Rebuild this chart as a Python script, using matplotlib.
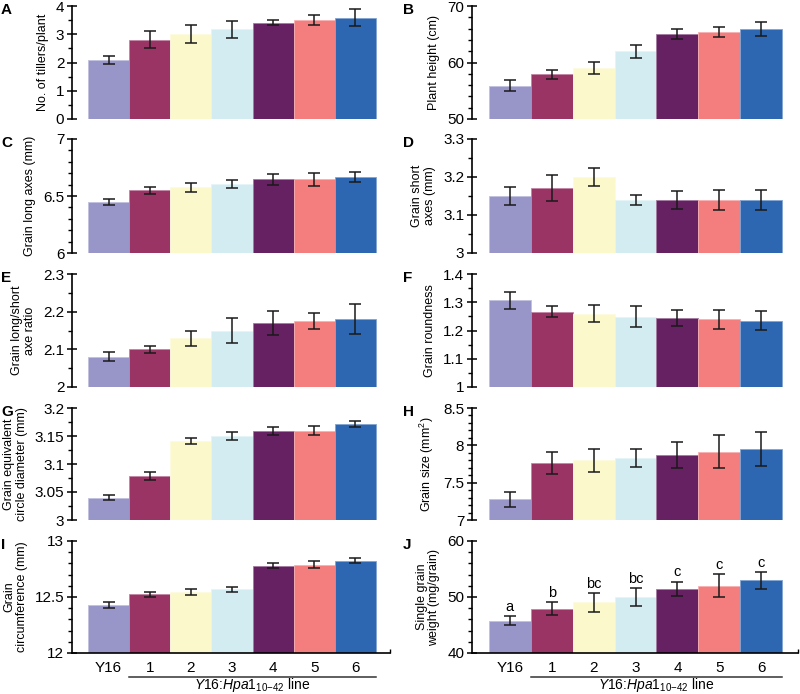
import numpy as np
import matplotlib
matplotlib.use("Agg")
from matplotlib import pyplot as plt
from matplotlib.ticker import MultipleLocator, FuncFormatter

plt.rcParams['font.family'] = ['Liberation Sans', 'DejaVu Sans']
plt.rcParams['mathtext.fontset'] = 'custom'
plt.rcParams['mathtext.rm'] = 'Liberation Sans'
plt.rcParams['mathtext.it'] = 'Liberation Sans:italic'

lines = ['Y16', '1', '2', '3', '4', '5', '6']
colors = ['#9896c8', '#9a3465', '#fbf8cc', '#d3ecf2', '#652162', '#f47d7e', '#2e67b1']

tillers = [2.09, 2.81, 3.00, 3.18, 3.41, 3.49, 3.59]
tillers_err = [0.15, 0.30, 0.32, 0.30, 0.08, 0.18, 0.30]
height = [55.9, 57.9, 59.05, 62.0, 65.0, 65.4, 65.9]
height_err = [1.0, 0.8, 1.0, 1.15, 0.9, 0.95, 1.2]
long_axes = [6.45, 6.55, 6.575, 6.608, 6.645, 6.645, 6.665]
long_err = [0.028, 0.032, 0.039, 0.035, 0.052, 0.057, 0.044]
short_axes = [3.15, 3.17, 3.20, 3.14, 3.14, 3.14, 3.14]
short_err = [0.024, 0.034, 0.024, 0.013, 0.024, 0.027, 0.027]
ratio = [2.08, 2.10, 2.13, 2.15, 2.17, 2.175, 2.18]
ratio_err = [0.012, 0.01, 0.02, 0.033, 0.032, 0.022, 0.04]
roundness = [1.307, 1.267, 1.259, 1.249, 1.244, 1.239, 1.235]
round_err = [0.03, 0.02, 0.03, 0.037, 0.029, 0.034, 0.034]
diameter = [3.040, 3.079, 3.141, 3.150, 3.159, 3.159, 3.171]
diam_err = [0.005, 0.007, 0.006, 0.0065, 0.0065, 0.008, 0.005]
size = [7.275, 7.76, 7.80, 7.83, 7.87, 7.916, 7.947]
size_err = [0.105, 0.145, 0.155, 0.12, 0.17, 0.22, 0.23]
circ = [12.428, 12.524, 12.545, 12.569, 12.78, 12.787, 12.825]
circ_err = [0.027, 0.02, 0.024, 0.024, 0.024, 0.03, 0.025]
weight = [45.8, 47.9, 49.05, 49.95, 51.5, 52.0, 52.95]
weight_err = [0.8, 1.2, 1.65, 1.6, 1.25, 2.05, 1.55]
letters = ['a', 'b', 'bc', 'bc', 'c', 'c', 'c']

# (letter, values, errors, ylabel, ylim, major, minor)
panels = [
    ('A', tillers, tillers_err, 'No. of tillers/plant', (0, 4), 1, 0.5),
    ('B', height, height_err, 'Plant height (cm)', (50, 70), 10, 2),
    ('C', long_axes, long_err, 'Grain long axes (mm)', (6, 7), 0.5, 0.1),
    ('D', short_axes, short_err, 'Grain short\naxes (mm)', (3, 3.3), 0.1, 0.05),
    ('E', ratio, ratio_err, 'Grain long/short\naxe ratio', (2, 2.3), 0.1, 0.05),
    ('F', roundness, round_err, 'Grain roundness', (1, 1.4), 0.1, 0.05),
    ('G', diameter, diam_err, 'Grain equivalent\ncircle diameter (mm)', (3, 3.2), 0.05, 0.025),
    ('H', size, size_err, 'Grain size (mm$^2$)', (7, 8.5), 0.5, 0.1),
    ('I', circ, circ_err, 'Grain\ncircumference (mm)', (12, 13), 0.5, 0.1),
    ('J', weight, weight_err, 'Single grain\nweight (mg/grain)', (40, 60), 10, 2),
]

W, H = 800, 694
fig = plt.figure(figsize=(8, 6.94), dpi=100)
rows = [(6, 119), (139, 253), (274, 387), (408, 520), (541, 653)]
x = np.arange(len(lines))
fmt = FuncFormatter(lambda v, p: '%g' % round(v, 4))

for i, (lab, vals, errs, ylab, ylim, major, minor) in enumerate(panels):
    r, c = divmod(i, 2)
    top, bot = rows[r]
    if c == 0:
        left, width, xlim = 72, 318, (-0.89, 6.84)
    else:
        left, width, xlim = 472, 326, (-0.906, 6.88)
    ax = fig.add_axes([left / W, 1 - bot / H, width / W, (bot - top) / H])
    ax.bar(x, np.array(vals) - ylim[0], bottom=ylim[0], width=1.0, color=colors,
           edgecolor=[matplotlib.colors.to_hex(0.6 * np.array(matplotlib.colors.to_rgb(cc)) + 0.4) for cc in colors],
           linewidth=0.6)
    ax.errorbar(x, vals, yerr=errs, fmt='none', ecolor='#1a1a1a', elinewidth=1.1,
                capsize=4, capthick=1.1)
    ax.set_xlim(*xlim)
    ax.set_ylim(*ylim)
    ax.yaxis.set_major_locator(MultipleLocator(major))
    ax.yaxis.set_minor_locator(MultipleLocator(minor))
    ax.yaxis.set_major_formatter(fmt)
    ax.tick_params(axis='y', which='major', direction='inout', length=7, width=1.1,
                   labelsize=11, pad=2)
    ax.tick_params(axis='y', which='minor', direction='out', length=3, width=1.0)
    for s in ['top', 'right']:
        ax.spines[s].set_visible(False)
    ax.spines['left'].set_linewidth(1.2)
    ax.set_ylabel(ylab, fontsize=9, labelpad=5, linespacing=1.1)
    if r == 4:
        ax.spines['bottom'].set_linewidth(1.2)
        ax.set_xticks(x)
        ax.set_xticklabels(lines, fontsize=11)
        ax.tick_params(axis='x', which='major', length=0, pad=6)
        ax.set_xticks([xlim[1]], minor=True)
        ax.tick_params(axis='x', which='minor', direction='in', length=3, width=1.0)
        # bracket line under transgenic lines
        x0 = (left + (0.5 - xlim[0]) / (xlim[1] - xlim[0]) * width) / W
        x1 = (left + (6.5 - xlim[0]) / (xlim[1] - xlim[0]) * width) / W
        fig.add_artist(plt.Line2D([x0, x1], [1 - 677 / H] * 2, color='#333333', lw=1.1))
        fig.text((x0 + x1) / 2, 1 - 685 / H,
                 r'$\mathit{Y16}$:$\mathit{Hpa1}_{\mathit{10{-}42}}$ line',
                 ha='center', va='center', fontsize=10)
    else:
        ax.spines['bottom'].set_visible(False)
        ax.set_xticks([])
    if lab == 'J':
        for xi, v, e, t in zip(x, vals, errs, letters):
            ax.text(xi, v + e + 0.4, t, ha='center', va='bottom', fontsize=10.5)
    fig.text((1 if c == 0 else 403) / W, 1 - (top + 4) / H, lab, fontsize=11,
             fontweight='bold', ha='left', va='center')

fig.savefig('out.png', dpi=100)
